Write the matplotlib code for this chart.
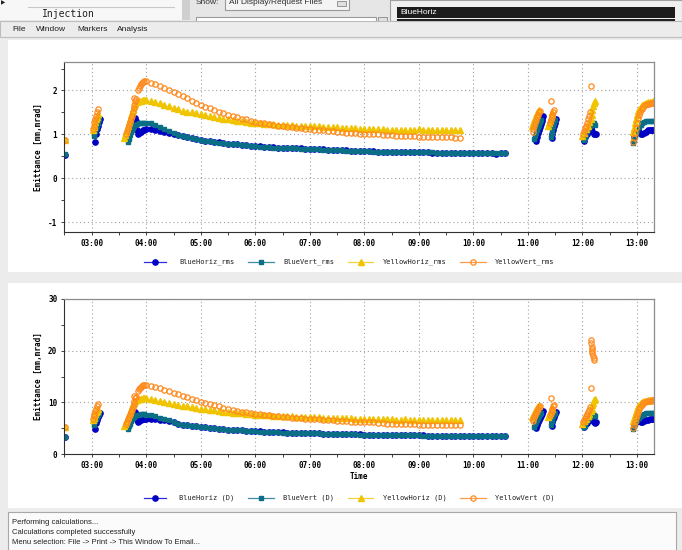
import numpy as np
import matplotlib
matplotlib.use('Agg')
import matplotlib.pyplot as plt
from matplotlib.patches import Rectangle
from matplotlib.ticker import MultipleLocator, FixedLocator

plt.rcParams['axes.unicode_minus'] = False

# ---------------- data (time "HH:MM", emittance) ----------------
# regular 5 minute samples start at 04:05
decay_start = 4 + 5 / 60

# upper panel: rms emittance
bh_rms_t = ["02:31", "03:04", "03:05", "03:06", "03:07", "03:08", "03:09",
            "03:46", "03:47", "03:48", "03:49", "03:50", "03:51", "03:52", "03:54", "03:56", "03:58", "04:00",
            "11:09", "11:10", "11:11", "11:12", "11:13", "11:14", "11:15", "11:16", "11:17",
            "11:26", "11:27", "11:28", "11:29", "11:30", "11:31",
            "12:02", "12:03", "12:05", "12:07", "12:09", "12:11", "12:13", "12:14", "12:15",
            "12:57", "12:58", "12:59", "13:00", "13:02", "13:04", "13:06", "13:08", "13:10", "13:12", "13:14", "13:16", "13:18"]
bh_rms_v = [0.54, 0.82, 1.02, 1.12, 1.20, 1.28, 1.34,
            1.15, 1.28, 1.38, 1.30, 1.10, 1.02, 1.03, 1.06, 1.09, 1.11, 1.12,
            0.85, 0.95, 1.03, 1.10, 1.17, 1.24, 1.30, 1.36, 1.41,
            0.92, 1.02, 1.11, 1.19, 1.27, 1.34,
            0.86, 0.93, 1.00, 1.08, 1.15, 1.08, 1.02, 1.00, 1.02,
            0.95, 1.00, 1.05, 1.07, 1.05, 1.02, 1.01, 1.03, 1.06, 1.09, 1.10, 1.11, 1.11]
bh_rms_decay = [1.12, 1.10, 1.08, 1.06, 1.04, 1.01, 0.98, 0.96, 0.93, 0.91, 0.90,
                0.88, 0.86, 0.85, 0.83, 0.82, 0.80, 0.79, 0.78, 0.77, 0.76, 0.75, 0.74,
                0.73, 0.73, 0.72, 0.71, 0.71, 0.70, 0.69, 0.69, 0.68, 0.68, 0.68, 0.67,
                0.67, 0.67, 0.66, 0.66, 0.65, 0.65, 0.64, 0.64, 0.64, 0.63, 0.63, 0.63,
                0.62, 0.62, 0.62, 0.61, 0.61, 0.61, 0.60, 0.60, 0.60, 0.60, 0.59, 0.59,
                0.59, 0.59, 0.59, 0.58, 0.58, 0.58, 0.58, 0.58, 0.58, 0.57, 0.57, 0.57,
                0.57, 0.57, 0.57, 0.57, 0.57, 0.56, 0.57, 0.57]

bv_rms_t = ["02:31", "03:02", "03:03", "03:04", "03:05", "03:06", "03:07", "03:08",
            "03:40", "03:41", "03:42", "03:43", "03:44", "03:45", "03:46", "03:48", "03:50", "03:52", "03:54", "03:56", "03:58", "04:00",
            "11:07", "11:08", "11:09", "11:10", "11:11", "11:12", "11:13", "11:14",
            "11:25", "11:26", "11:27", "11:28", "11:29", "11:30",
            "12:02", "12:03", "12:04", "12:05", "12:06", "12:07", "12:08", "12:09", "12:10", "12:11", "12:12", "12:13", "12:14",
            "12:56", "12:57", "12:58", "12:59", "13:00", "13:02", "13:04", "13:06", "13:08", "13:10", "13:12", "13:14", "13:16", "13:18"]
bv_rms_v = [0.55, 0.96, 1.02, 1.08, 1.14, 1.20, 1.27, 1.34,
            0.82, 0.90, 0.98, 1.05, 1.10, 1.15, 1.18, 1.21, 1.23, 1.25, 1.26, 1.27, 1.27, 1.27,
            0.89, 0.96, 1.03, 1.10, 1.16, 1.22, 1.28, 1.33,
            0.95, 1.04, 1.12, 1.20, 1.27, 1.32,
            0.88, 0.95, 1.02, 1.08, 1.12, 1.16, 1.18, 1.22, 1.24, 1.26, 1.27, 1.26, 1.22,
            0.80, 0.88, 0.96, 1.04, 1.10, 1.16, 1.21, 1.25, 1.28, 1.30, 1.30, 1.30, 1.30, 1.30]
bv_rms_decay = [1.25, 1.21, 1.17, 1.13, 1.08, 1.03, 0.99, 0.96, 0.93, 0.91, 0.89,
                0.88, 0.86, 0.84, 0.83, 0.81, 0.80, 0.79, 0.78, 0.77, 0.76, 0.75, 0.74,
                0.73, 0.72, 0.72, 0.71, 0.70, 0.70, 0.69, 0.69, 0.68, 0.68, 0.67, 0.67,
                0.67, 0.66, 0.66, 0.65, 0.65, 0.65, 0.64, 0.64, 0.63, 0.63, 0.63, 0.62,
                0.62, 0.62, 0.61, 0.61, 0.61, 0.61, 0.60, 0.60, 0.60, 0.60, 0.60, 0.59,
                0.59, 0.59, 0.59, 0.59, 0.58, 0.58, 0.58, 0.58, 0.58, 0.58, 0.58, 0.57,
                0.57, 0.57, 0.57, 0.57, 0.57, 0.57, 0.57, 0.57]

yh_rms_t = ["02:31", "03:01", "03:02", "03:03", "03:04", "03:05", "03:06", "03:07",
            "03:36", "03:37", "03:38", "03:39", "03:40", "03:41", "03:42", "03:43", "03:44", "03:45", "03:46",
            "03:48", "03:50", "03:52", "03:54", "03:56", "03:58", "04:00",
            "11:05", "11:06", "11:07", "11:08", "11:09", "11:10", "11:11", "11:12",
            "11:22", "11:23", "11:24", "11:25", "11:26", "11:27",
            "12:00", "12:02", "12:04", "12:06", "12:07", "12:09", "12:10", "12:11", "12:12", "12:13", "12:14",
            "12:56", "12:57", "12:58", "12:59", "13:00", "13:01", "13:02", "13:04", "13:06", "13:08", "13:10", "13:12", "13:14", "13:16", "13:18"]
yh_rms_v = [0.87, 1.10, 1.16, 1.22, 1.28, 1.34, 1.40, 1.46,
            0.92, 0.98, 1.05, 1.12, 1.20, 1.28, 1.36, 1.44, 1.52, 1.58, 1.64,
            1.70, 1.73, 1.75, 1.77, 1.78, 1.79, 1.78,
            1.20, 1.26, 1.32, 1.38, 1.44, 1.49, 1.53, 1.55,
            1.18, 1.25, 1.32, 1.40, 1.46, 1.50,
            0.96, 1.04, 1.12, 1.20, 1.28, 1.36, 1.45, 1.55, 1.64, 1.72, 1.76,
            1.05, 1.15, 1.25, 1.35, 1.45, 1.53, 1.58, 1.63, 1.66, 1.69, 1.71, 1.73, 1.74, 1.74, 1.75]
yh_rms_decay = [1.77, 1.74, 1.71, 1.67, 1.64, 1.60, 1.57, 1.54, 1.52, 1.50, 1.48,
                1.46, 1.44, 1.42, 1.40, 1.38, 1.36, 1.34, 1.33, 1.31, 1.30, 1.28, 1.27,
                1.26, 1.25, 1.24, 1.24, 1.23, 1.22, 1.22, 1.21, 1.21, 1.20, 1.20, 1.19,
                1.19, 1.18, 1.18, 1.17, 1.17, 1.16, 1.16, 1.15, 1.15, 1.14, 1.14, 1.13,
                1.13, 1.13, 1.12, 1.12, 1.12, 1.11, 1.11, 1.11, 1.11, 1.10, 1.10, 1.10,
                1.12, 1.10, 1.09, 1.09, 1.09, 1.09, 1.09, 1.09, 1.09, 1.09]

yv_rms_t = ["02:31", "03:01", "03:02", "03:03", "03:04", "03:05", "03:06", "03:07",
            "03:38", "03:39", "03:40", "03:41", "03:42", "03:43", "03:44", "03:45", "03:46", "03:47", "03:48", "03:49",
            "03:46", "03:51", "03:52", "03:53", "03:54", "03:55", "03:56", "03:58", "04:00",
            "11:06", "11:06", "11:07", "11:08", "11:09", "11:10", "11:11", "11:12", "11:13",
            "11:24", "11:25", "11:26", "11:27", "11:28", "11:29", "11:25",
            "12:01", "12:02", "12:03", "12:04", "12:05", "12:06", "12:07", "12:08", "12:09",
            "12:56", "12:57", "12:58", "12:59", "13:00", "13:01", "13:02", "13:03", "13:05", "13:07", "13:09", "13:11", "13:13", "13:15", "13:17", "13:19"]
yv_rms_v = [0.87, 1.13, 1.20, 1.28, 1.36, 1.43, 1.50, 1.57,
            1.00, 1.07, 1.14, 1.21, 1.28, 1.35, 1.42, 1.50, 1.60, 1.68, 1.76, 1.80,
            1.84, 2.00, 2.06, 2.11, 2.15, 2.18, 2.20, 2.21, 2.22,
            1.06, 1.12, 1.18, 1.25, 1.32, 1.39, 1.45, 1.50, 1.54,
            1.26, 1.32, 1.39, 1.45, 1.51, 1.56, 1.77,
            1.02, 1.08, 1.14, 1.20, 1.27, 1.34, 1.42, 1.50, 2.11,
            0.83, 0.92, 1.03, 1.15, 1.27, 1.37, 1.45, 1.52, 1.58, 1.63, 1.66, 1.69, 1.70, 1.71, 1.71, 1.71]
yv_rms_decay = [2.18, 2.14, 2.10, 2.06, 2.02, 1.97, 1.92, 1.87, 1.82, 1.77, 1.72,
                1.67, 1.63, 1.59, 1.55, 1.52, 1.48, 1.45, 1.42, 1.39, 1.36, 1.34, 1.31,
                1.29, 1.27, 1.25, 1.24, 1.22, 1.20, 1.19, 1.17, 1.16, 1.15, 1.14, 1.13,
                1.12, 1.11, 1.10, 1.09, 1.08, 1.07, 1.06, 1.05, 1.04, 1.03, 1.03, 1.02,
                1.01, 1.01, 1.00, 1.00, 0.99, 0.98, 0.98, 0.97, 0.97, 0.97, 0.96, 0.96,
                0.95, 0.95, 0.94, 0.94, 0.94, 0.93, 0.93, 0.93, 0.92, 0.92]

# lower panel: (D) emittance
bh_d_t = bh_rms_t
bh_d_v = [3.2, 4.8, 6.0, 6.6, 7.1, 7.6, 8.0,
          7.0, 7.6, 8.2, 7.6, 6.6, 6.2, 6.3, 6.5, 6.7, 6.8, 6.8,
          5.1, 5.7, 6.2, 6.6, 7.0, 7.4, 7.8, 8.1, 8.4,
          5.5, 6.1, 6.7, 7.2, 7.7, 8.1,
          5.2, 5.6, 6.0, 6.5, 6.9, 6.5, 6.1, 6.0, 6.1,
          5.7, 6.0, 6.3, 6.4, 6.3, 6.2, 6.2, 6.3, 6.5, 6.6, 6.7, 6.7, 6.7]
bh_d_decay = [6.8, 6.7, 6.6, 6.5, 6.3, 6.1, 5.9, 5.7, 5.6, 5.5, 5.4,
              5.3, 5.2, 5.1, 5.0, 4.9, 4.8, 4.7, 4.7, 4.6, 4.6, 4.5, 4.4,
              4.4, 4.4, 4.3, 4.3, 4.2, 4.2, 4.2, 4.1, 4.1, 4.1, 4.0, 4.0,
              4.0, 4.0, 4.0, 3.9, 3.9, 3.9, 3.9, 3.8, 3.8, 3.8, 3.8, 3.8,
              3.7, 3.7, 3.7, 3.7, 3.7, 3.7, 3.6, 3.6, 3.6, 3.6, 3.6, 3.6,
              3.6, 3.6, 3.5, 3.5, 3.5, 3.5, 3.5, 3.5, 3.5, 3.5, 3.5, 3.5,
              3.5, 3.5, 3.5, 3.5, 3.5, 3.5, 3.5, 3.5]

bv_d_t = bv_rms_t
bv_d_v = [3.3, 5.6, 6.0, 6.4, 6.8, 7.2, 7.6, 8.0,
          4.9, 5.4, 5.9, 6.3, 6.7, 7.0, 7.2, 7.4, 7.5, 7.6, 7.7, 7.7, 7.7, 7.6,
          5.3, 5.8, 6.2, 6.6, 7.0, 7.3, 7.7, 8.0,
          5.7, 6.3, 6.8, 7.3, 7.7, 8.0,
          5.3, 5.7, 6.1, 6.5, 6.7, 7.0, 7.1, 7.3, 7.4, 7.6, 7.6, 7.6, 7.3,
          4.9, 5.4, 5.9, 6.3, 6.6, 7.0, 7.3, 7.6, 7.8, 7.9, 8.0, 8.0, 8.0, 8.0]
bv_d_decay = [7.5, 7.3, 7.0, 6.8, 6.5, 6.2, 5.9, 5.7, 5.6, 5.5, 5.4,
              5.3, 5.2, 5.1, 5.0, 4.9, 4.8, 4.7, 4.7, 4.6, 4.6, 4.5, 4.4,
              4.4, 4.3, 4.3, 4.3, 4.2, 4.2, 4.1, 4.1, 4.1, 4.1, 4.0, 4.0,
              4.0, 4.0, 4.0, 3.9, 3.9, 3.9, 3.8, 3.8, 3.8, 3.8, 3.8, 3.7,
              3.7, 3.7, 3.7, 3.7, 3.7, 3.7, 3.6, 3.6, 3.6, 3.6, 3.6, 3.6,
              3.6, 3.5, 3.5, 3.5, 3.5, 3.5, 3.5, 3.5, 3.5, 3.5, 3.5, 3.5,
              3.5, 3.5, 3.5, 3.5, 3.5, 3.5, 3.5, 3.5]

yh_d_t = yh_rms_t
yh_d_v = [5.2, 6.6, 7.0, 7.4, 7.8, 8.1, 8.4, 8.7,
          5.4, 5.8, 6.2, 6.7, 7.2, 7.7, 8.2, 8.7, 9.2, 9.6, 9.9,
          10.3, 10.5, 10.6, 10.7, 10.8, 10.8, 10.8,
          7.2, 7.6, 8.0, 8.3, 8.7, 9.0, 9.2, 9.3,
          7.1, 7.6, 8.0, 8.4, 8.8, 9.1,
          5.8, 6.3, 6.8, 7.3, 7.8, 8.3, 8.8, 9.4, 9.9, 10.4, 10.6,
          6.3, 6.9, 7.5, 8.1, 8.7, 9.2, 9.5, 9.8, 10.0, 10.2, 10.3, 10.4, 10.5, 10.5, 10.5]
yh_d_decay = [10.7, 10.5, 10.3, 10.1, 9.9, 9.7, 9.5, 9.3, 9.2, 9.1, 8.9,
              8.8, 8.7, 8.6, 8.5, 8.3, 8.2, 8.1, 8.0, 7.9, 7.9, 7.8, 7.7,
              7.6, 7.6, 7.5, 7.5, 7.4, 7.4, 7.3, 7.3, 7.3, 7.2, 7.2, 7.2,
              7.1, 7.1, 7.1, 7.0, 7.0, 7.0, 6.9, 6.9, 6.9, 6.9, 6.8, 6.8,
              6.8, 6.8, 6.7, 6.7, 6.7, 6.7, 6.7, 6.6, 6.6, 6.7, 6.6, 6.6,
              6.6, 6.6, 6.5, 6.5, 6.5, 6.5, 6.5, 6.5, 6.5, 6.5]

yv_d_t = yv_rms_t[:54] + ["12:09", "12:09", "12:10", "12:10", "12:11", "12:11", "12:12", "12:13", "12:13"] + yv_rms_t[54:]
yv_d_v = [5.2, 6.8, 7.3, 7.8, 8.3, 8.8, 9.2, 9.7,
          5.8, 6.2, 6.7, 7.1, 7.6, 8.1, 8.6, 9.1, 9.7, 10.2, 10.8, 11.0,
          11.2, 12.1, 12.5, 12.8, 13.0, 13.2, 13.3, 13.4, 13.4,
          6.4, 6.8, 7.1, 7.5, 7.9, 8.4, 8.8, 9.1, 9.3,
          7.6, 8.0, 8.4, 8.8, 9.2, 9.5, 10.8,
          6.2, 6.6, 7.0, 7.3, 7.7, 8.2, 8.6, 9.1, 12.7,
          22.0, 21.4, 20.8, 20.3, 20.0, 19.6, 19.0, 18.5, 18.2,
          5.0, 5.6, 6.2, 6.9, 7.6, 8.2, 8.7, 9.1, 9.5, 9.8, 10.0, 10.2, 10.3, 10.3, 10.4, 10.4]
yv_d_decay = [13.2, 12.9, 12.7, 12.4, 12.2, 11.9, 11.6, 11.3, 11.0, 10.7, 10.4,
              10.1, 9.9, 9.6, 9.4, 9.2, 9.0, 8.8, 8.6, 8.4, 8.2, 8.1, 7.9,
              7.8, 7.7, 7.6, 7.5, 7.4, 7.3, 7.2, 7.1, 7.0, 7.0, 6.9, 6.8,
              6.8, 6.7, 6.7, 6.6, 6.5, 6.5, 6.4, 6.4, 6.3, 6.2, 6.2, 6.2,
              6.1, 6.1, 6.1, 6.0, 6.0, 5.9, 5.9, 5.9, 5.9, 5.9, 5.8, 5.8,
              5.7, 5.7, 5.7, 5.7, 5.7, 5.6, 5.6, 5.6, 5.6, 5.6]

hour_ticks = [3, 4, 5, 6, 7, 8, 9, 10, 11, 12, 13]
hour_labels = ['03:00', '04:00', '05:00', '06:00', '07:00', '08:00', '09:00',
               '10:00', '11:00', '12:00', '13:00']
rms_labels = ['BlueHoriz_rms', 'BlueVert_rms', 'YellowHoriz_rms', 'YellowVert_rms']
d_labels = ['BlueHoriz (D)', 'BlueVert (D)', 'YellowHoriz (D)', 'YellowVert (D)']


def hrs(ts):
    return [int(t[:2]) + int(t[3:]) / 60 for t in ts]


def series(ts, vals, decay):
    x = hrs(ts) + list(decay_start + np.arange(len(decay)) * 5 / 60)
    return x, list(vals) + list(decay)


styles = [dict(marker='o', color='#0000c4', ms=3.8, mec='#0000c4'),
          dict(marker='s', color='#0a6f86', ms=3.5, mec='#0a6f86'),
          dict(marker='^', color='#f0c400', ms=4.3, mec='#f0c400'),
          dict(marker='o', color='#ff8a1e', ms=3.8, mfc='none', mec='#ff8a1e', mew=0.9)]
line_cols = ['#2a2ae0', '#3b8fa0', '#f2d23a', '#ff9c48']

mono = 'DejaVu Sans Mono'

# ---------------- figure / window chrome ----------------
fig = plt.figure(figsize=(6.82, 5.5), dpi=100)
fig.patch.set_facecolor('#ececec')
bg = fig.add_axes([0, 0, 1, 1], zorder=0)
bg.set_xlim(0, 682)
bg.set_ylim(550, 0)
bg.axis('off')


def box(x, y, w, h, fc, ec='none', lw=0.8):
    bg.add_patch(Rectangle((x, y), w, h, facecolor=fc, edgecolor=ec, linewidth=lw))


# top strip
box(0, 0, 182, 20, '#f7f7f7')
bg.plot([28, 174], [7, 7], color='#c8c8c8', lw=0.8)
bg.text(42, 14, 'Injection', family=mono, size=7, va='center', color='#202020')
bg.text(1, 3, '\u25b6', size=4, va='center', color='#202020')
box(182, 0, 8, 20, '#cfcfcf')
box(190, 0, 200, 20, '#e6e6e6')
bg.text(196, 3, 'Show:', family='Liberation Sans', size=6, va='center', color='#303030')
box(225, -2, 124, 12, '#f4f4f4', '#9a9a9a')
bg.text(229, 3, 'All Display/Request Files', family='Liberation Sans', size=6, va='center', color='#303030')
box(337, 1, 9, 5, '#e0e0e0', '#888888', 0.6)
box(196, 17, 180, 5, '#ffffff', '#9a9a9a')
box(378, 17, 9, 5, '#e0e0e0', '#888888', 0.6)
box(390, 0, 292, 21, '#f0f0f0', '#a0a0a0')
box(397, 7, 278, 11, '#1c1c1c')
box(397, 18.6, 278, 3, '#1c1c1c')
bg.text(400, 12.5, 'BlueHoriz', family='Liberation Sans', size=6, va='center', color='white')

# menu bar
box(0, 21, 682, 16, '#ececec', '#bdbdbd')
for mx, mt in zip([12, 36, 77, 117], ['File', 'Window', 'Markers', 'Analysis']):
    bg.text(mx, 29.5, mt, family='Liberation Sans', size=6, va='center', color='#202020')

# plot panels
box(8, 40, 674, 232, '#ffffff')
box(8, 283, 674, 225, '#ffffff')

# status area
box(8, 512, 668, 40, '#fbfbfb', '#a8a8a8')
for sy, st in zip([522, 532, 542], ['Performing calculations...',
                                    'Calculations completed successfully',
                                    'Menu selection: File -> Print -> This Window To Email...']):
    bg.text(12, sy, st, family='Liberation Sans', size=5.5, va='center', color='#202020')


# ---------------- plot axes ----------------
def setup(ax, ylim, ymaj, ymin):
    ax.set_xlim(2.497, 13.318)
    ax.set_ylim(*ylim)
    ax.xaxis.set_major_locator(FixedLocator(hour_ticks))
    ax.set_xticklabels(hour_labels)
    ax.xaxis.set_minor_locator(MultipleLocator(0.5))
    ax.yaxis.set_major_locator(MultipleLocator(ymaj))
    ax.yaxis.set_minor_locator(MultipleLocator(ymin))
    ax.grid(True, which='major', color='#a0a0a0', linestyle=(0, (1, 2.5)), linewidth=0.8)
    ax.set_axisbelow(True)
    ax.tick_params(which='both', direction='out', length=2.5, width=0.7, color='#404040',
                   labelsize=5.5, pad=2.5)
    for lab in ax.get_xticklabels() + ax.get_yticklabels():
        lab.set_family(mono)
        lab.set_fontweight('bold')
    for s in ['left', 'bottom']:
        ax.spines[s].set_color('#303030')
        ax.spines[s].set_linewidth(0.8)
    for s in ['top', 'right']:
        ax.spines[s].set_color('#8c8c8c')
        ax.spines[s].set_linewidth(0.9)
    ax.set_ylabel('Emittance [mm,mrad]', family=mono, fontweight='bold', size=5.5)
    ax.yaxis.set_label_coords(-0.036, 0.5)


W = (654.3 - 64.3) / 682
ax1 = fig.add_axes([64.3 / 682, 1 - 231.7 / 550, W, (231.7 - 62.3) / 550], zorder=2)
ax2 = fig.add_axes([64.3 / 682, 1 - 454 / 550, W, 155 / 550], zorder=2)
setup(ax1, (-1.216, 2.642), 1, 0.5)
setup(ax2, (0, 30), 10, 5)
ax2.set_xlabel('Time', family=mono, fontweight='bold', size=5.5)
ax2.xaxis.set_label_coords(0.5, -0.115)

upper = [(bh_rms_t, bh_rms_v, bh_rms_decay), (bv_rms_t, bv_rms_v, bv_rms_decay),
         (yh_rms_t, yh_rms_v, yh_rms_decay), (yv_rms_t, yv_rms_v, yv_rms_decay)]
lower = [(bh_d_t, bh_d_v, bh_d_decay), (bv_d_t, bv_d_v, bv_d_decay),
         (yh_d_t, yh_d_v, yh_d_decay), (yv_d_t, yv_d_v, yv_d_decay)]

for ax, sets in [(ax1, upper), (ax2, lower)]:
    for (t, v, dec), st in zip(sets, styles):
        x, y = series(t, v, dec)
        ax.plot(x, y, linestyle='none', **st)


# legends under each panel
leg_x = [(144, 166, 179), (248, 274, 283), (348, 373, 383), (460, 486, 495)]


def legend_row(y, labels):
    for (x0, x1, tx), lab, st, lc in zip(leg_x, labels, styles, line_cols):
        bg.plot([x0, x1], [y, y], color=lc, lw=0.9)
        bg.plot([(x0 + x1) / 2], [y], linestyle='none', **st)
        bg.text(tx, y, lab, family=mono, size=5, va='center', color='#202020')


legend_row(262, rms_labels)
legend_row(498, d_labels)

fig.savefig('out.png', dpi=100, facecolor=fig.get_facecolor())
